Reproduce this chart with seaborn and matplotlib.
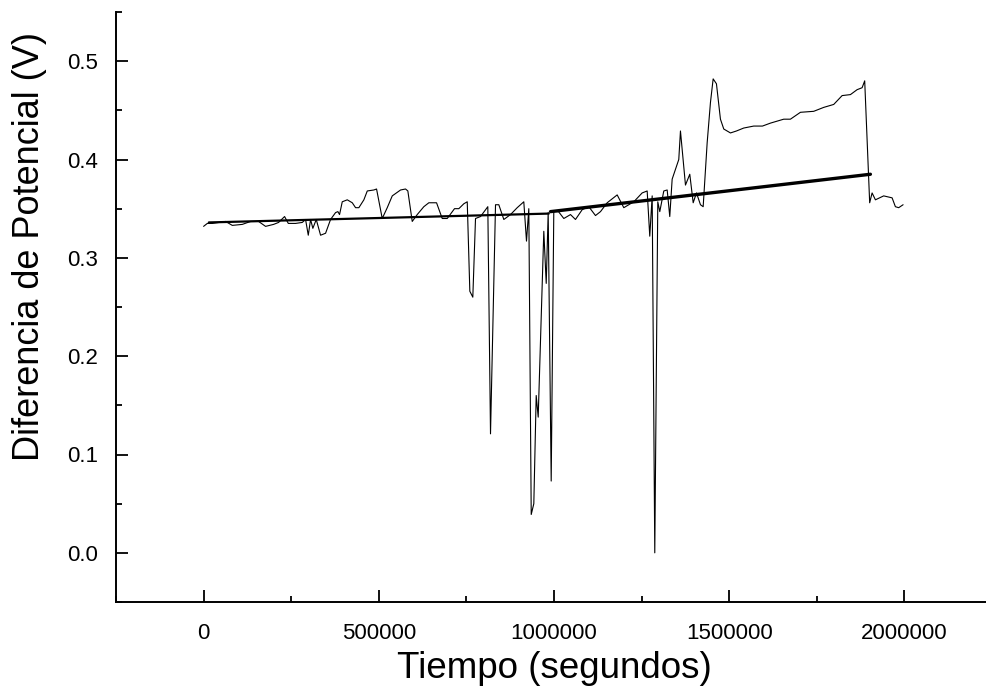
import numpy as np
import pandas as pd
import seaborn as sns
from matplotlib import pyplot as plt
from matplotlib.ticker import MultipleLocator

tiempo = [0, 10600, 24800, 62800, 81900, 110400, 134100, 156900, 176900, 199700,
          214000, 231100, 241700, 262500, 281600, 291000, 298700, 305300, 311800, 321500,
          333800, 348100, 362300, 376600, 383200, 388000, 395700, 410000, 424300, 433700,
          443100, 457400, 467100, 485900, 493600, 509800, 524100, 538400, 562100, 576300,
          582900, 595400, 609700, 628500, 642800, 664800, 681000, 695300, 716100, 728400,
          742700, 752400, 759800, 768300, 776000, 790300, 811100, 818800, 833100, 842500,
          856800, 875900, 895000, 913800, 921500, 928100, 935000, 942400, 949200, 954900,
          970900, 977800, 983400, 992000, 999400, 1012800, 1028000, 1047100, 1061300, 1080500,
          1099300, 1118400, 1132700, 1151800, 1180300, 1199200, 1227700, 1251600, 1265900, 1273300,
          1280200, 1287600, 1296200, 1301900, 1313300, 1323000, 1330400, 1337200, 1346700, 1356100,
          1360900, 1365800, 1375200, 1387500, 1397200, 1406600, 1418000, 1425700, 1437100, 1446500,
          1454200, 1463600, 1475000, 1484500, 1503600, 1520700, 1541500, 1570000, 1594900, 1617700,
          1655600, 1674700, 1703300, 1741200, 1769800, 1798300, 1822300, 1846000, 1865000, 1879300,
          1886700, 1900900, 1907800, 1917300, 1940900, 1964900, 1974300, 1983700, 1996300]
potencial = [0.332, 0.335, 0.335, 0.337, 0.333, 0.334, 0.337, 0.337, 0.332, 0.334,
             0.336, 0.342, 0.335, 0.335, 0.336, 0.339, 0.323, 0.339, 0.330, 0.339,
             0.323, 0.325, 0.339, 0.346, 0.347, 0.344, 0.357, 0.359, 0.356, 0.351,
             0.351, 0.359, 0.368, 0.369, 0.370, 0.340, 0.351, 0.363, 0.369, 0.370,
             0.368, 0.337, 0.344, 0.352, 0.356, 0.356, 0.340, 0.340, 0.350, 0.350,
             0.355, 0.357, 0.266, 0.260, 0.340, 0.342, 0.352, 0.121, 0.354, 0.354,
             0.339, 0.344, 0.351, 0.357, 0.317, 0.350, 0.039, 0.050, 0.160, 0.138,
             0.327, 0.274, 0.346, 0.073, 0.347, 0.347, 0.340, 0.344, 0.339, 0.349,
             0.352, 0.343, 0.347, 0.356, 0.364, 0.351, 0.357, 0.366, 0.368, 0.322,
             0.363, 0.000, 0.357, 0.347, 0.368, 0.369, 0.342, 0.380, 0.390, 0.400,
             0.429, 0.410, 0.374, 0.385, 0.356, 0.366, 0.354, 0.352, 0.417, 0.458,
             0.482, 0.477, 0.441, 0.431, 0.427, 0.429, 0.432, 0.434, 0.434, 0.437,
             0.441, 0.441, 0.448, 0.449, 0.453, 0.456, 0.465, 0.466, 0.471, 0.473,
             0.480, 0.356, 0.366, 0.359, 0.363, 0.361, 0.352, 0.351, 0.354]

# Linear fits (two segments)
ajuste1_t = [15000, 985000]
ajuste1_v = [0.336, 0.345]
ajuste2_t = [990000, 1903000]
ajuste2_v = [0.347, 0.385]

sns.set_theme(style="ticks")
plt.rcParams['font.family'] = ['Liberation Sans', 'DejaVu Sans']
plt.rcParams['text.color'] = 'black'
plt.rcParams['axes.labelcolor'] = 'black'

df = pd.DataFrame({'Tiempo': tiempo, 'Potencial': potencial})

fig = plt.figure(figsize=(9.86, 6.92), dpi=100)
ax = fig.add_axes([116 / 986, 90 / 692, 876 / 986, 590 / 692])

sns.lineplot(data=df, x='Tiempo', y='Potencial', ax=ax, sort=False, estimator=None,
             color='black', linewidth=0.8)
sns.lineplot(x=ajuste1_t, y=ajuste1_v, ax=ax, color='black', linewidth=1.6)
sns.lineplot(x=ajuste2_t, y=ajuste2_v, ax=ax, color='black', linewidth=2.4)

ax.set_xlim(-250000, 2250000)
ax.set_ylim(-0.05, 0.55)
ax.xaxis.set_major_locator(MultipleLocator(500000))
ax.xaxis.set_minor_locator(MultipleLocator(250000))
ax.yaxis.set_major_locator(MultipleLocator(0.1))
ax.yaxis.set_minor_locator(MultipleLocator(0.05))
ax.yaxis.set_major_formatter(plt.FormatStrFormatter('%.1f'))
ax.xaxis.set_major_formatter(plt.FormatStrFormatter('%d'))

ax.tick_params(which='both', direction='in', width=1.3, colors='black', labelsize=16)
ax.tick_params(which='major', length=8.6)
ax.tick_params(which='minor', length=4.3)
ax.tick_params(axis='x', which='major', pad=15)
ax.tick_params(axis='y', which='major', pad=13)

for side in ['top', 'right']:
    ax.spines[side].set_visible(False)
for side in ['left', 'bottom']:
    ax.spines[side].set_linewidth(1.4)
    ax.spines[side].set_color('black')

ax.set_xlabel('Tiempo (segundos)', fontsize=26.5, labelpad=5)
ax.set_ylabel('Diferencia de Potencial (V)', fontsize=26)
ax.yaxis.set_label_coords(-0.079, 0.603)

fig.savefig('out.png', dpi=100)
